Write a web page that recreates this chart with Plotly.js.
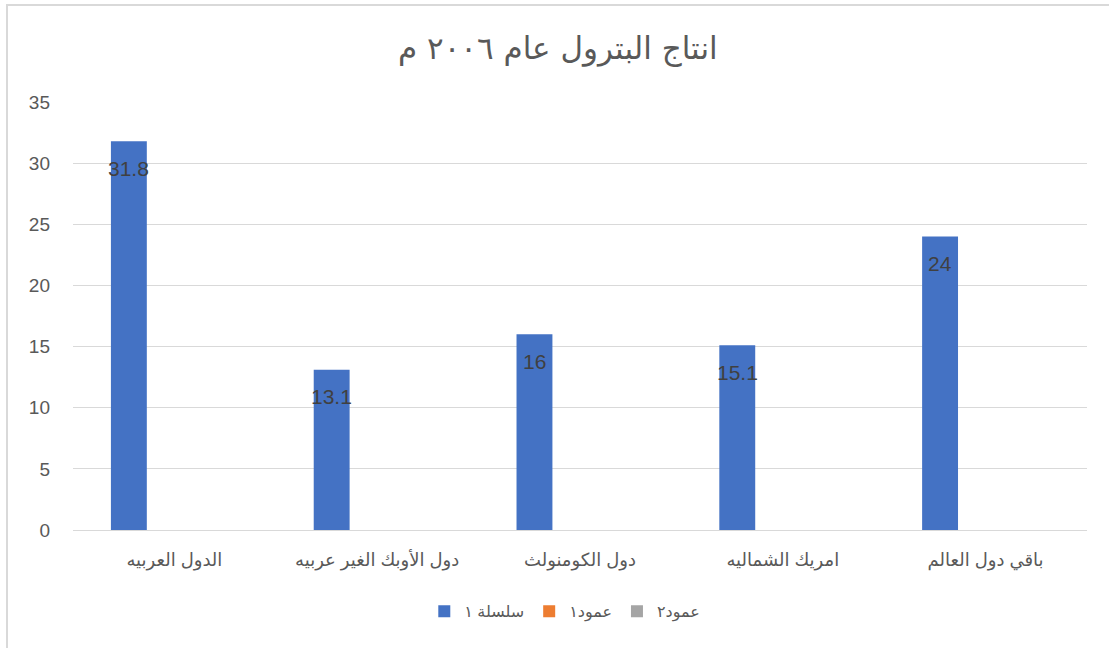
<!DOCTYPE html>
<html>
<head>
<meta charset="utf-8">
<script src="https://cdn.plot.ly/plotly-3.0.1.min.js"></script>
<style>html,body{margin:0;padding:0;background:#fff;}#chart{width:1109px;height:648px;}</style>
</head>
<body>
<div id="chart"></div>
<script>
const categories = ["الدول العربيه", "دول الأوبك الغير عربيه", "دول الكومنولث", "امريك الشماليه", "باقي دول العالم"];
const series1 = [31.8, 13.1, 16, 15.1, 24];
const column1 = [null, null, null, null, null];
const column2 = [null, null, null, null, null];
const seriesNames = ["سلسلة ١", "عمود١", "عمود٢"];
const colors = ["#4472C4", "#ED7D31", "#A5A5A5"];
const titleText = "انتاج البترول عام ٢٠٠٦ م";

const barWidth = 0.177;
const barOffsets = [-0.313, -0.136, 0.041];
const allSeries = [series1, column1, column2];

const traces = allSeries.map((vals, i) => ({
  type: 'bar',
  x: categories,
  y: vals,
  name: seriesNames[i],
  marker: {color: colors[i]},
  width: barWidth,
  offset: barOffsets[i],
  hoverinfo: 'none'
}));

const annotations = categories.map((c, i) => ({
  x: c, y: series1[i], xref: 'x', yref: 'y',
  text: String(series1[i]),
  showarrow: false,
  xshift: -45.5, yshift: -27,
  font: {family: 'Liberation Sans, Arial, sans-serif', size: 21, color: '#404040'}
}));

const layout = {
  width: 1109, height: 648,
  margin: {l: 73, r: 22, t: 102, b: 118},
  paper_bgcolor: '#ffffff', plot_bgcolor: '#ffffff',
  title: {
    text: titleText,
    x: 0.503, xanchor: 'center', y: 0.926, yanchor: 'middle',
    font: {family: 'DejaVu Sans, Arial, sans-serif', size: 31, color: '#595959'}
  },
  barmode: 'group',
  xaxis: {
    type: 'category',
    showgrid: false, zeroline: false,
    showline: true, linecolor: '#d9d9d9', linewidth: 1,
    ticks: '',
    ticklabelstandoff: 13,
    tickfont: {family: 'Liberation Sans, DejaVu Sans, Arial, sans-serif', size: 18, color: '#595959'}
  },
  yaxis: {
    range: [0, 35],
    dtick: 5, tick0: 0,
    showgrid: true, gridcolor: '#d9d9d9', gridwidth: 1,
    zeroline: false, showline: false,
    ticks: '',
    ticklabelstandoff: 22,
    tickfont: {family: 'Liberation Sans, Arial, sans-serif', size: 19, color: '#595959'}
  },
  showlegend: true,
  legend: {
    orientation: 'h', x: 0.485, xanchor: 'center', y: -0.19, yanchor: 'middle',
    font: {family: 'Liberation Sans, DejaVu Sans, Arial, sans-serif', size: 16, color: '#595959'},
    itemclick: false
  },
  annotations: annotations,
  shapes: [{
    type: 'rect', xref: 'paper', yref: 'paper',
    x0: -0.0651, x1: 1.03, y0: -0.29, y1: 1.2266,
    line: {color: '#d9d9d9', width: 2}, fillcolor: 'rgba(0,0,0,0)', layer: 'below'
  }]
};

Plotly.newPlot('chart', traces, layout, {displayModeBar: false, staticPlot: true});
</script>
</body>
</html>
